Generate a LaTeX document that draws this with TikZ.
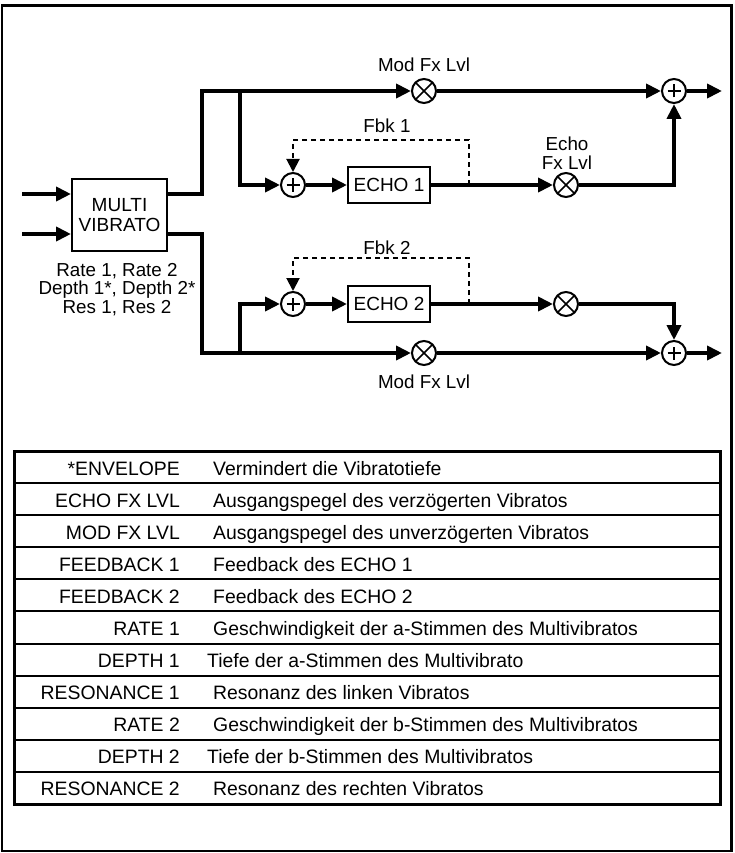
\documentclass[tikz,border=0pt]{standalone}
\usepackage{fontspec}
\setmainfont{Liberation Sans}
\usetikzlibrary{arrows.meta}
\begin{document}
\begin{tikzpicture}[x=1pt,y=-1pt,line join=miter,
  sigarrow/.style={line width=4pt,-{Triangle[length=15pt,width=14pt]}},
  sigline/.style={line width=4pt},
  fbarrow/.style={line width=2pt,dash pattern=on 5pt off 4pt,-{Triangle[length=13pt,width=13pt]}},
  blk/.style={draw,line width=2pt,minimum width=82pt,minimum height=36pt,inner sep=0pt,align=center,font=\fontsize{19}{19.5}\selectfont},
  mult/.style={draw,circle,line width=2pt,minimum size=24pt,inner sep=0pt,
    path picture={\draw[line width=1.7pt] (path picture bounding box.north west)--(path picture bounding box.south east) (path picture bounding box.north east)--(path picture bounding box.south west);}},
  sum/.style={draw,circle,line width=2pt,minimum size=24pt,inner sep=0pt,
    path picture={\draw[line width=1.7pt] ([xshift=-6.5pt]path picture bounding box.center)--([xshift=6.5pt]path picture bounding box.center) ([yshift=-6.5pt]path picture bounding box.center)--([yshift=6.5pt]path picture bounding box.center);}},
  lbl/.style={anchor=base,inner sep=0pt,font=\fontsize{18.8}{19.5}\selectfont},
  tlab/.style={anchor=base east,inner sep=0pt,font=\fontsize{19.4}{20}\selectfont},
  tdesc/.style={anchor=base west,inner sep=0pt,font=\fontsize{19.4}{20}\selectfont},
]
\useasboundingbox (0,0) rectangle (734,853);
\draw[line width=2.5pt] (1.8,5.5) rectangle (731.5,851);

% blocks
\node[blk,minimum width=95pt,minimum height=72pt] (mv) at (119.5,215) {MULTI\\VIBRATO};
\node[mult] (m1) at (424,91) {};
\node[sum] (s1) at (674,91) {};
\node[sum] (p1) at (293,185) {};
\node[blk] (e1) at (389,185) {ECHO 1};
\node[mult] (m2) at (566,185) {};
\node[sum] (p2) at (293,304) {};
\node[blk] (e2) at (389,304) {ECHO 2};
\node[mult] (m3) at (566,304) {};
\node[mult] (m4) at (424,353) {};
\node[sum] (s2) at (674,353) {};

% coordinates
\coordinate (in1) at (22,194);
\coordinate (in2) at (22,234);
\coordinate (t1) at (202,91);
\coordinate (b1) at (202,353);
\coordinate (br1) at (240,91);
\coordinate (br2) at (240,353);
\coordinate (o1) at (722,91);
\coordinate (o2) at (722,353);
\coordinate (f1) at (469,185);
\coordinate (fb1) at (469,140);
\coordinate (f2) at (469,304);
\coordinate (fb2) at (469,258);

% inputs
\draw[sigarrow] (in1) -- (mv.west |- in1);
\draw[sigarrow] (in2) -- (mv.west |- in2);

% upper path
\draw[sigarrow] (mv.east |- in1) -| (t1) -- (m1);
\draw[sigarrow] (m1) -- (s1);
\draw[sigarrow] (s1) -- (o1);
\draw[sigarrow] (br1) |- (p1);
\draw[sigarrow] (p1) -- (e1);
\draw[sigarrow] (e1) -- (m2);
\draw[sigarrow] (m2) -| (s1);
\draw[fbarrow] (f1) -- (fb1) -| (p1);

% lower path
\draw[sigarrow] (mv.east |- in2) -| (b1) -- (m4);
\draw[sigarrow] (m4) -- (s2);
\draw[sigarrow] (s2) -- (o2);
\draw[sigarrow] (br2) |- (p2);
\draw[sigarrow] (p2) -- (e2);
\draw[sigarrow] (e2) -- (m3);
\draw[sigarrow] (m3) -| (s2);
\draw[fbarrow] (f2) -- (fb2) -| (p2);

% labels
\node[lbl] (tmod1) at (424,72) {Mod Fx Lvl};
\node[lbl] (tfb1) at (387,133) {Fbk 1};
\node[lbl] (tech1) at (567,151) {Echo};
\node[lbl] (tech2) at (567,170) {Fx Lvl};
\node[lbl] (tfb2) at (387,254) {Fbk 2};
\node[lbl] (tmod2) at (424,388) {Mod Fx Lvl};
\node[lbl] (rr1) at (117,276) {Rate 1, Rate 2};
\node[lbl] (rr2) at (117,294.5) {Depth 1*, Depth 2*};
\node[lbl] (rr3) at (117,313) {Res 1, Res 2};

% table
\foreach \k in {1,...,10} {
  \draw[line width=2pt] (14,451+32.09*\k) -- (720,451+32.09*\k);
}
\draw[line width=3pt] (14,451) rectangle (720,804);
\foreach \lab/\desc/\dx [count=\k from 0] in {
  *ENVELOPE/Vermindert die Vibratotiefe/213,
  ECHO FX LVL/Ausgangspegel des verzögerten Vibratos/213,
  MOD FX LVL/Ausgangspegel des unverzögerten Vibratos/213,
  FEEDBACK 1/Feedback des ECHO 1/213,
  FEEDBACK 2/Feedback des ECHO 2/213,
  RATE 1/Geschwindigkeit der a-Stimmen des Multivibratos/213,
  DEPTH 1/Tiefe der a-Stimmen des Multivibrato/207,
  RESONANCE 1/Resonanz des linken Vibratos/213,
  RATE 2/Geschwindigkeit der b-Stimmen des Multivibratos/213,
  DEPTH 2/Tiefe der b-Stimmen des Multivibratos/207,
  RESONANCE 2/Resonanz des rechten Vibratos/213} {
  \node[tlab] (lab\k) at (180,475+32.09*\k) {\lab};
  \node[tdesc] (desc\k) at (\dx,475+32.09*\k) {\desc};
}
\end{tikzpicture}
\end{document}
